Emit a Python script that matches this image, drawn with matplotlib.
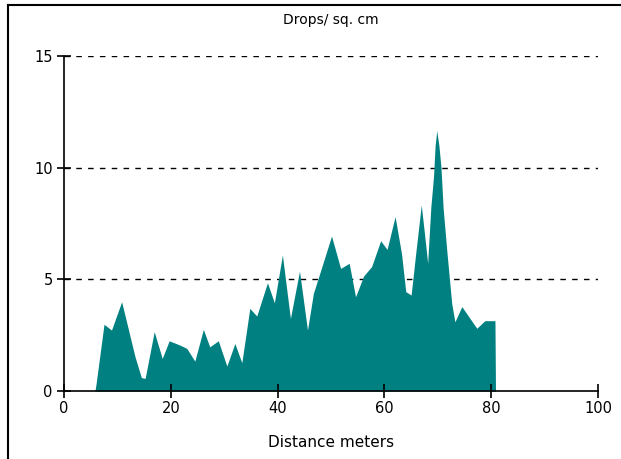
import numpy as np
import matplotlib
matplotlib.use("Agg")
import matplotlib.pyplot as plt
from matplotlib.lines import Line2D

# distance (m) and drops per sq. cm
distance = [5.8, 6.0, 7.5, 8.9, 10.8, 13.3, 14.5, 15.2, 16.9, 18.4, 19.7, 21.7,
            23.0, 24.5, 26.1, 27.3, 28.9, 30.5, 32.0, 33.3, 34.8, 36.1, 38.1,
            39.4, 40.9, 42.4, 44.1, 45.6, 46.7, 47.9, 50.1, 51.8, 53.4, 54.6,
            56.1, 57.6, 59.3, 60.5, 62.0, 63.2, 64.0, 65.0, 65.9, 66.3, 66.9,
            67.5, 68.1, 68.7, 69.2, 69.5, 69.8, 70.2, 70.6, 71.0, 71.7, 72.6,
            73.2, 74.5, 77.3, 78.8, 80.7, 80.8]
drops = [0.0, 0.3, 2.99, 2.73, 4.0, 1.54, 0.6, 0.57, 2.66, 1.46, 2.25, 2.06,
         1.91, 1.34, 2.76, 1.98, 2.25, 1.12, 2.13, 1.27, 3.7, 3.36, 4.85,
         3.95, 6.09, 3.25, 5.37, 2.73, 4.37, 5.27, 6.94, 5.49, 5.72, 4.22,
         5.15, 5.57, 6.73, 6.34, 7.81, 6.16, 4.45, 4.3, 6.24, 7.06, 8.33,
         7.06, 5.72, 8.25, 9.6, 11.0, 11.66, 11.0, 10.0, 8.18, 6.24, 3.93,
         3.1, 3.78, 2.81, 3.15, 3.15, 0.0]

x_ticks = [0, 20, 40, 60, 80, 100]
y_ticks = [0, 5, 10, 15]

fig = plt.figure(figsize=(6.21, 4.59), dpi=100)
ax = fig.add_axes([0.103, 0.148, 0.86, 0.73])

ax.fill_between(distance, drops, 0, color="#008080", linewidth=0)

for y in y_ticks[1:]:
    ax.axhline(y, color="black", linewidth=1, dashes=(4, 4.5), zorder=0)

ax.set_xlim(0, 100)
ax.set_ylim(0, 15)
ax.set_xticks(x_ticks)
ax.set_yticks(y_ticks)
ax.tick_params(direction="inout", length=10, width=1.2, labelsize=10.5, pad=2)
ax.tick_params(axis="y", pad=3)
for s in ["top", "right"]:
    ax.spines[s].set_visible(False)
for s in ["left", "bottom"]:
    ax.spines[s].set_linewidth(1.2)

ax.set_title("Drops/ sq. cm", fontsize=10, pad=23)
ax.set_xlabel("Distance meters", fontsize=11, labelpad=14)

# window frame (left and top edges)
fig.add_artist(Line2D([0.013, 0.013], [0, 0.99], transform=fig.transFigure,
                      color="black", linewidth=1.5))
fig.add_artist(Line2D([0.013, 1.0], [0.99, 0.99], transform=fig.transFigure,
                      color="black", linewidth=1.5))

fig.savefig("out.png", dpi=100)
